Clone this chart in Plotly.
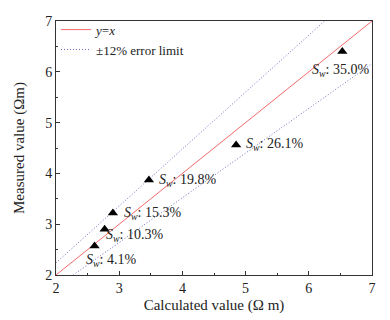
import plotly.graph_objects as go

# Data
calculated = [2.61, 2.77, 2.90, 3.47, 4.85, 6.53]
measured = [2.57, 2.90, 3.22, 3.87, 4.56, 6.40]
sw_labels = ["4.1%", "10.3%", "15.3%", "19.8%", "26.1%", "35.0%"]
error_limit = 0.12
line_x = [2, 7]
tick_vals = [2, 3, 4, 5, 6, 7]

# label offsets (pixels) relative to the point
label_offsets = [(-11, -14), (-1, -6), (9, 0), (8, 0), (8, 0), (-32, -19)]

FONT = "Liberation Serif, Times New Roman, serif"

fig = go.Figure()
fig.add_trace(go.Scatter(
    x=line_x, y=line_x, mode="lines",
    line=dict(color="#f26a6a", width=1),
    name="<i>y</i>=<i>x</i>"))
fig.add_trace(go.Scatter(
    x=line_x, y=[v * (1 + error_limit) for v in line_x], mode="lines",
    line=dict(color="#6f6fc4", width=1, dash="1px,2px"),
    name="±12% error limit"))
fig.add_trace(go.Scatter(
    x=line_x, y=[v * (1 - error_limit) for v in line_x], mode="lines",
    line=dict(color="#6f6fc4", width=1, dash="1px,2px"),
    showlegend=False))
fig.add_trace(go.Scatter(
    x=calculated, y=measured, mode="markers",
    marker=dict(symbol="triangle-up", size=9, color="black"),
    showlegend=False))

for cx, my, lab, (dx, dy) in zip(calculated, measured, sw_labels, label_offsets):
    fig.add_annotation(
        x=cx, y=my, xref="x", yref="y",
        text=f"<i>S<sub>w</sub></i>: {lab}",
        showarrow=False, xanchor="left", yanchor="middle",
        xshift=dx, yshift=dy,
        font=dict(family=FONT, size=14, color="#222"))

axis_common = dict(
    range=[2, 7], tickvals=tick_vals, ticks="inside", ticklen=4,
    tickcolor="#333", showline=True, linecolor="#333", linewidth=1,
    mirror=True, showgrid=False, zeroline=False, automargin=False,
    tickfont=dict(family=FONT, size=14, color="#222"),
    minor=dict(ticks="inside", ticklen=2, dtick=0.5, tickcolor="#333"),
)

fig.update_layout(
    width=390, height=320,
    margin=dict(l=56, r=18, t=21, b=45),
    paper_bgcolor="white", plot_bgcolor="white",
    font=dict(family=FONT, size=13, color="#222"),
    xaxis=dict(**axis_common,
               title=dict(text="Calculated value (Ω m)", standoff=4,
                          font=dict(family=FONT, size=15, color="#222"))),
    yaxis=dict(**axis_common,
               title=dict(text="Measured value (Ωm)", standoff=16,
                          font=dict(family=FONT, size=15, color="#222"))),
    legend=dict(x=0.0, y=1.025, xanchor="left", yanchor="top",
                bgcolor="rgba(0,0,0,0)", borderwidth=0,
                font=dict(family=FONT, size=13, color="#222"),
                tracegroupgap=0, itemwidth=30),
    showlegend=True,
)

fig.write_html("out.html",
               config={"displayModeBar": False},
               post_script="document.body.style.margin='0px';document.body.style.padding='0px';")
